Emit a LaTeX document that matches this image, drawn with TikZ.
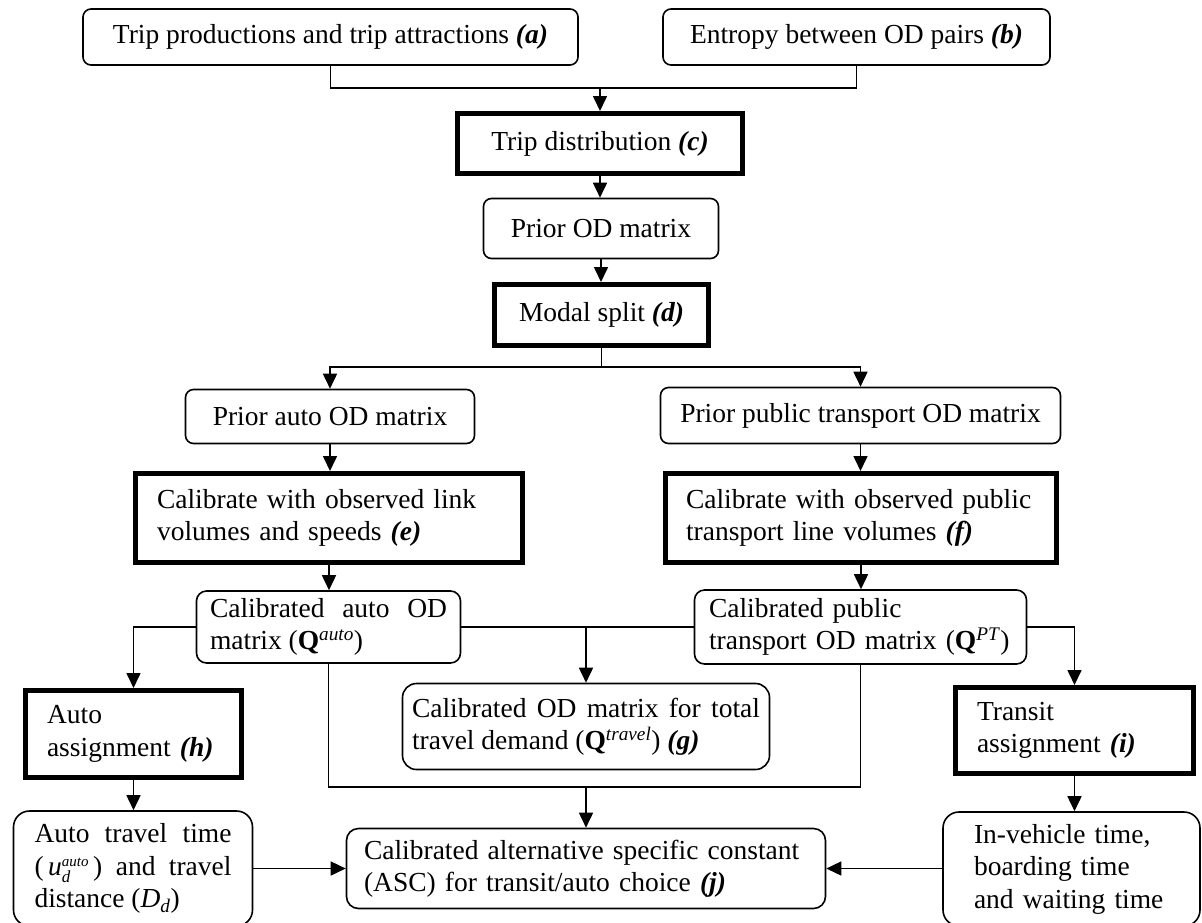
\documentclass[tikz,border=0pt]{standalone}
\usepackage{fontspec}
\setmainfont{Liberation Serif}
\usetikzlibrary{arrows.meta}
\newcommand\myfs{\fontsize{27.5}{32.5}\selectfont}
\newcommand\lab[1]{\textbf{\textit{(#1)}}}
\begin{document}
\begin{tikzpicture}[x=1pt,y=-1pt,
  rbox/.style={draw, line width=1.6pt, inner sep=0pt, rounded corners=8pt, font=\myfs},
  tbox/.style={draw, line width=5pt, inner sep=0pt, font=\myfs},
  arr/.style={-{Triangle[length=15pt,width=14pt]}, line width=1.6pt},
  ln/.style={line width=1.6pt}]
\useasboundingbox (0,0) rectangle (1202,922);
% top row
\node[rbox, minimum width=495pt, minimum height=56pt] (a) at (330.5,37) {Trip productions and trip attractions \lab{a}};
\node[rbox, minimum width=387pt, minimum height=56pt] (b) at (856.5,37) {Entropy between OD pairs \lab{b}};
\node[tbox, minimum width=285pt, minimum height=60pt] (c) at (600,143.5) {Trip distribution \lab{c}};
\node[rbox, minimum width=235pt, minimum height=60pt] (p) at (601,228.5) {Prior OD matrix};
\node[tbox, minimum width=214pt, minimum height=61pt] (d) at (601.5,315) {Modal split \lab{d}};
\node[rbox, minimum width=289pt, minimum height=54pt] (pa) at (330,416.5) {Prior auto OD matrix};
\node[rbox, minimum width=400pt, minimum height=56pt] (ppt) at (860.5,415.5) {Prior public transport OD matrix};
\node[tbox, minimum width=387pt, minimum height=89pt, text width=344pt, align=left] (e) at (329,518) {Calibrate with observed link\\ volumes and speeds \lab{e}};
\node[tbox, minimum width=391pt, minimum height=89pt, text width=350pt, align=left] (f) at (861,518) {Calibrate with observed public\\ transport line volumes \lab{f}};
\node[rbox, rounded corners=10pt, minimum width=264pt, minimum height=72pt, text width=237pt, align=justify] (ca) at (328.5,627) {Calibrated auto OD\linebreak matrix (\textbf{Q}\textsuperscript{\textit{auto}})};
\node[rbox, rounded corners=10pt, minimum width=332pt, minimum height=74pt, text width=303pt, align=left] (cpt) at (860.5,627) {Calibrated public\\ transport OD matrix (\textbf{Q}\textsuperscript{\textit{PT}})};
\node[tbox, minimum width=216pt, minimum height=87pt, text width=173pt, align=left] (h) at (133.5,734) {Auto\\ assignment \lab{h}};
\node[rbox, rounded corners=14pt, minimum width=367pt, minimum height=86pt, text width=348pt, align=justify] (g) at (586,726.5) {Calibrated OD matrix for total\linebreak travel demand (\textbf{Q}\textsuperscript{\textit{travel}}) \lab{g}};
\node[tbox, minimum width=238pt, minimum height=86pt, text width=195pt, align=left] (i) at (1074.5,730.5) {Transit\\ assignment \lab{i}};
\node[rbox, rounded corners=16pt, minimum width=239pt, minimum height=115pt, text width=197pt, align=justify] (at) at (133,868.5) {Auto travel time\linebreak (\,\textit{u}\makebox[0pt][l]{\raisebox{-7pt}{\fontsize{17}{17}\selectfont\textit{d}}}\raisebox{9pt}{\fontsize{15}{15}\selectfont\textit{auto}}\,) and travel\linebreak distance (\textit{D}\textsubscript{\textit{d}})};
\node[rbox, rounded corners=12pt, minimum width=479pt, minimum height=80pt, text width=444pt, align=left] (j) at (586,868.5) {Calibrated alternative specific constant\\ (ASC) for transit/auto choice \lab{j}};
\node[rbox, rounded corners=16pt, minimum width=257pt, minimum height=114pt, text width=195pt, align=left] (iv) at (1071.5,869) {In-vehicle time,\\ boarding time\\ and waiting time};
% junction points
\coordinate (m1) at (600,88);
\coordinate (m2) at (601.5,367);
\coordinate (m3) at (586,627);
\coordinate (m4) at (586,787);
% connectors
\draw[ln] (a.south) |- (m1) -| (b.south);
\draw[arr] (m1) -- (c.north);
\draw[arr] (c.south) -- (c.south |- p.north);
\draw[arr] (p.south) -- (p.south |- d.north);
\draw[ln] (d.south) -- (m2);
\draw[arr] (m2) -| (pa.north);
\draw[arr] (m2) -| (ppt.north);
\draw[arr] (pa.south) -- (pa.south |- e.north);
\draw[arr] (ppt.south) -- (ppt.south |- f.north);
\draw[arr] (e.south) -- (e.south |- ca.north);
\draw[arr] (f.south) -- (f.south |- cpt.north);
\draw[arr] (ca.west) -| (h.north);
\draw[ln] (ca.east) -- (cpt.west);
\draw[arr] (m3) -- (g.north);
\draw[ln] (ca.south) |- (m4) -| (cpt.south);
\draw[arr] (m4) -- (j.north);
\draw[arr] (cpt.east) -| (i.north);
\draw[arr] (h.south) -- (h.south |- at.north);
\draw[arr] (i.south) -- (i.south |- iv.north);
\draw[arr] (at.east |- j.west) -- (j.west);
\draw[arr] (iv.west |- j.east) -- (j.east);
\end{tikzpicture}
\end{document}
